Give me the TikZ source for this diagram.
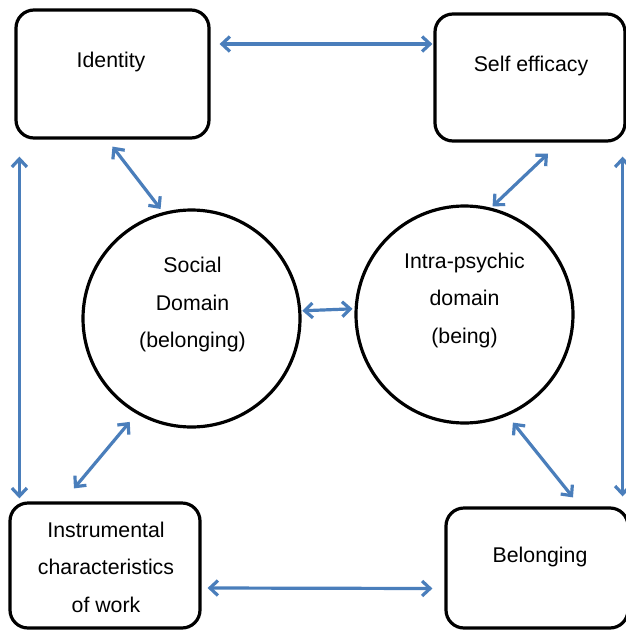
\documentclass[tikz,border=0pt]{standalone}
\usepackage{fontspec}
\setmainfont{Liberation Sans}
\usetikzlibrary{arrows.meta}
\definecolor{arrowblue}{RGB}{74,126,187}
\begin{document}
\begin{tikzpicture}[x=1pt,y=-1pt,
  box/.style={draw,line width=3.2pt,rounded corners=18pt,inner sep=0pt},
  circ/.style={draw,line width=3.2pt,circle,inner sep=0pt,minimum size=217pt},
  txt/.style={align=center,font=\fontsize{21.3}{37.5}\selectfont,inner sep=0pt},
  link/.style={arrowblue,line width=3.2pt,{Straight Barb[length=8pt,width=15pt]}-{Straight Barb[length=8pt,width=15pt]}}]
\useasboundingbox (0,0) rectangle (626,630);
\fill[white] (0,0) rectangle (626,630);
% boxes
\node[box,minimum width=193pt,minimum height=128pt] (ident) at (112.5,74) {};
\node[txt,anchor=base] (identt) at (111,67) {Identity};
\node[box,minimum width=190pt,minimum height=127pt] (self) at (530,77.5) {};
\node[txt,anchor=base] (selft) at (531,71) {Self efficacy};
\node[box,minimum width=190pt,minimum height=125pt] (instr) at (105,565.5) {};
\node[txt] (instrt) at (106,567.2) {Instrumental\\characteristics\\of work};
\node[box,minimum width=182pt,minimum height=120pt] (belong) at (537,568) {};
\node[txt,anchor=base] (belongt) at (540,562) {Belonging};
% circles
\node[circ] (social) at (191.5,318.5) {};
\node[txt] (socialt) at (192.5,304.5) {Social\\Domain\\(belonging)};
\node[circ] (intra) at (464.5,314.5) {};
\node[txt] (intrat) at (464.5,300) {Intra-psychic\\domain\\(being)};
% connectors
\draw[link] ([xshift=9pt,yshift=30pt]ident.east) -- ([xshift=-1pt,yshift=33.5pt]self.west);
\draw[link] ([xshift=5pt,yshift=-17pt]ident.south west) -- ([xshift=11pt,yshift=3pt]instr.north west);
\draw[link] ([xshift=-4pt,yshift=-14pt]self.south east) -- ([xshift=-7pt,yshift=10pt]belong.north east);
\draw[link] ([xshift=6pt,yshift=-22.5pt]instr.east) -- ([xshift=-12pt,yshift=-20.5pt]belong.west);
\draw[link,shorten >=4pt] ([yshift=-7pt]ident.south) -- (social.105.6);
\draw[link,shorten >=2pt] ([xshift=18pt,yshift=-11pt]self.south) -- (intra.76.3);
\draw[link,shorten >=10.5pt] ([xshift=-31pt,yshift=13pt]instr.north) -- (social.240.3);
\draw[link,shorten <=8.6pt] (intra.293.6) -- ([xshift=36pt,yshift=9pt]belong.north);
\draw[link,shorten <=1pt,shorten >=2pt] (social.4.4) -- (intra.177.7);
\end{tikzpicture}
\end{document}
